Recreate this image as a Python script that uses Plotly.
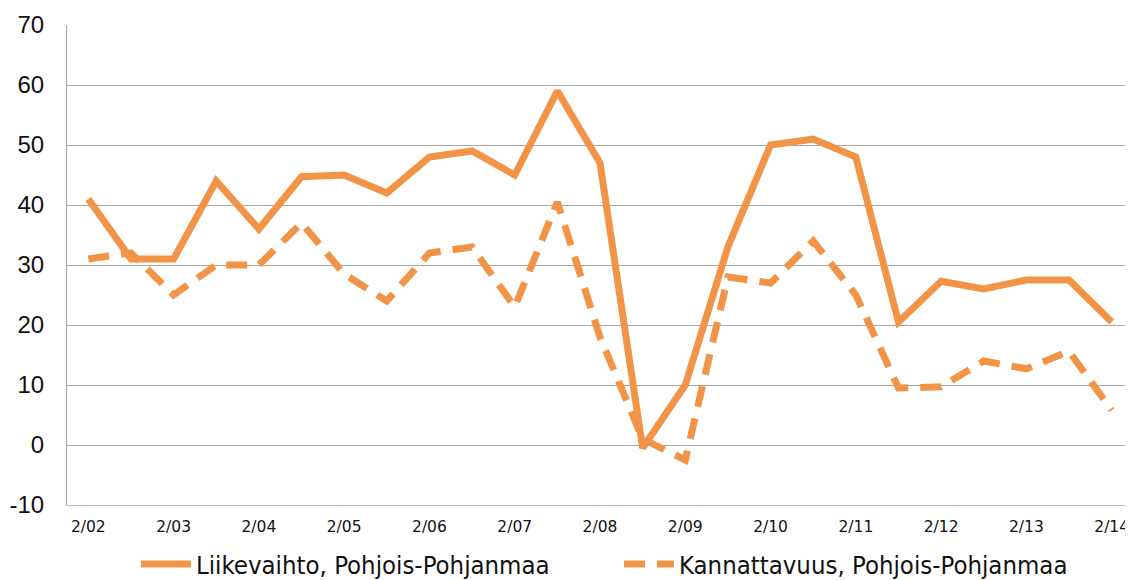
import plotly.graph_objects as go

periods = ["2/02", "8/02", "2/03", "8/03", "2/04", "8/04", "2/05", "8/05", "2/06", "8/06",
           "2/07", "8/07", "2/08", "8/08", "2/09", "8/09", "2/10", "8/10", "2/11", "8/11",
           "2/12", "8/12", "2/13", "8/13", "2/14"]
tick_labels = ["2/02", "2/03", "2/04", "2/05", "2/06", "2/07", "2/08", "2/09", "2/10",
               "2/11", "2/12", "2/13", "2/14"]
liikevaihto = [41, 31, 31, 44, 36, 44.7, 45, 42, 48, 49, 45, 59, 47, -0.5, 10, 33, 50, 51,
               48, 20.5, 27.3, 26, 27.5, 27.5, 20.5]
kannattavuus = [31, 32, 25, 30, 30, 37, 28.5, 24, 32, 33, 23, 40.5, 18, 1, -2.5, 28, 27, 34,
                25, 9.5, 9.7, 14, 12.7, 15.6, 5.8]
y_ticks = [-10, 0, 10, 20, 30, 40, 50, 60, 70]
y_tick_text = ["-10", "0", "10", "20", "30", "40", "50", "60", "70"]

color = "#F29448"
fig = go.Figure()
fig.add_trace(go.Scatter(x=periods, y=liikevaihto, mode="lines",
                         name="Liikevaihto, Pohjois-Pohjanmaa",
                         line=dict(color=color, width=7)))
fig.add_trace(go.Scatter(x=periods, y=kannattavuus, mode="lines",
                         name="Kannattavuus, Pohjois-Pohjanmaa",
                         line=dict(color=color, width=7, dash="21px,12px")))

# the page body adds an 8px offset, so the figure is 8px smaller than the window
fig.update_layout(
    width=1125, height=572,
    margin=dict(l=59, r=0, t=17, b=75, autoexpand=False),
    plot_bgcolor="white", paper_bgcolor="rgba(0,0,0,0)",
    showlegend=True,
    legend=dict(orientation="h", x=0.0647, xanchor="left", y=-0.124, yanchor="middle",
                bgcolor="rgba(0,0,0,0)",
                font=dict(family="DejaVu Sans Condensed, Liberation Sans", size=25.5, color="#111111"),
                itemwidth=50, entrywidth=418, entrywidthmode="pixels", traceorder="normal"),
    xaxis=dict(type="category", categoryorder="array", categoryarray=periods,
               range=[-0.5, len(periods) - 0.5], automargin=False,
               tickmode="array", tickvals=tick_labels, ticktext=tick_labels,
               showgrid=False, showline=True, linecolor="#BFBFBF", linewidth=1,
               ticks="", ticklabelstandoff=7,
               tickfont=dict(family="DejaVu Sans", size=15.5, color="#111111")),
    yaxis=dict(range=[-10, 70], tickmode="array", tickvals=y_ticks, ticktext=y_tick_text,
               automargin=False,
               showgrid=True, gridcolor="#A6A6A6", gridwidth=1, zeroline=False,
               showline=True, linecolor="#A6A6A6", linewidth=1,
               ticks="", ticklabelstandoff=17,
               tickfont=dict(family="Liberation Sans", size=24, color="#111111")),
)

fig.write_html("out.html")
